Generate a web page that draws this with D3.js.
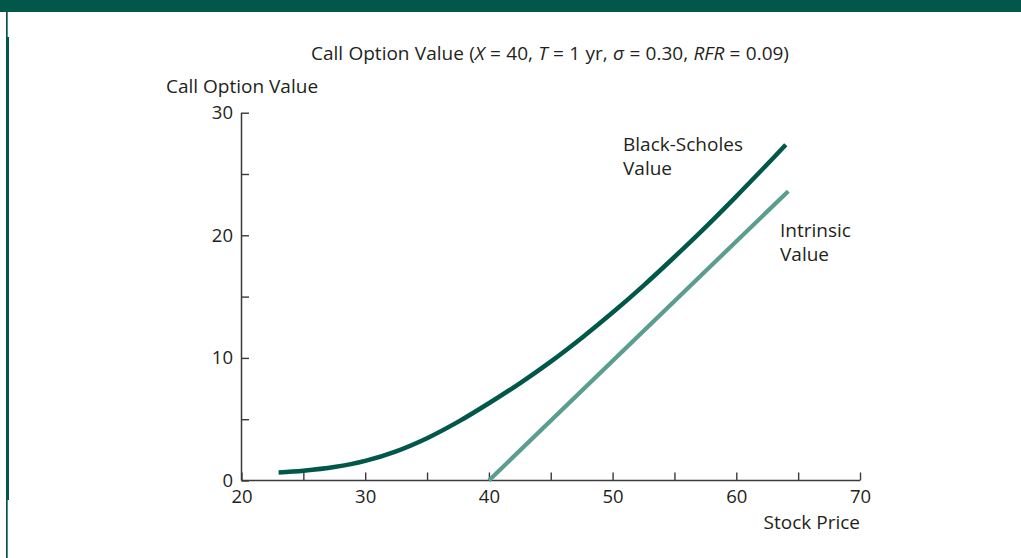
<!DOCTYPE html>
<html>
<head>
<meta charset="utf-8">
<script src="https://cdn.jsdelivr.net/npm/d3@7"></script>
<style>
  html, body { margin: 0; padding: 0; background: #fff; }
  svg { display: block; }
  text { font-family: "Open Sans", "Noto Sans", sans-serif; fill: #231f20; }
</style>
</head>
<body>
<svg id="chart" width="1021" height="558"></svg>
<script>
// ---- data ----
const bsPrice = [23, 25, 27.5, 30, 32.5, 35, 37.5, 40, 42.5, 45, 47.5, 50, 52.5, 55, 57.5, 60, 62, 64];
const bsValue = [0.66, 0.8, 1.1, 1.6, 2.38, 3.45, 4.78, 6.3, 7.93, 9.7, 11.63, 13.7, 15.9, 18.23, 20.65, 23.18, 25.26, 27.38];
const ivPrice = [40, 64.2];
const ivValue = [0, 23.6];
const xTicks = [20, 25, 30, 35, 40, 45, 50, 55, 60, 65, 70];
const xTickLabels = ["20", "", "30", "", "40", "", "50", "", "60", "", "70"];
const yTicks = [0, 5, 10, 15, 20, 25, 30];
const yTickLabels = ["0", "", "10", "", "20", "", "30"];

const svg = d3.select("#chart");
const W = 1021, H = 558;
const FONT = '"Open Sans", "Noto Sans", sans-serif';

// frame decoration
svg.append("rect").attr("x", 0).attr("y", 0).attr("width", W).attr("height", 12).attr("fill", "#00574a");
svg.append("rect").attr("x", 6).attr("y", 12).attr("width", 1.7).attr("height", H - 12).attr("fill", "#00574a");
svg.append("rect").attr("x", 6).attr("y", 37).attr("width", 3).attr("height", 463).attr("fill", "#00574a");

const x = d3.scaleLinear().domain([20, 70]).range([241.5, 860]);
const y = d3.scaleLinear().domain([0, 30]).range([480.5, 112.7]);

// x axis
const xAxis = d3.axisBottom(x).tickValues(xTicks).tickSize(-8).tickPadding(9.5)
  .tickFormat((d, i) => xTickLabels[i]);
const gx = svg.append("g").attr("transform", `translate(0,${y(0)})`).call(xAxis);
gx.select(".domain").attr("d", `M${x(20)},0H${x(70)}`).attr("stroke", "#3a3a3a").attr("stroke-width", 1.5);
gx.selectAll(".tick line").attr("stroke", "#3a3a3a").attr("stroke-width", 1.4);
gx.selectAll(".tick text").attr("font-size", 18.5).attr("fill", "#231f20")
  .attr("font-family", FONT).attr("dy", "0.71em");

// y axis
const yAxis = d3.axisLeft(y).tickValues(yTicks).tickSize(-7.5).tickPadding(8.5)
  .tickFormat((d, i) => yTickLabels[i]);
const gy = svg.append("g").attr("transform", `translate(${x(20)},0)`).call(yAxis);
gy.select(".domain").attr("d", `M0,${y(30)}V${y(0)}`).attr("stroke", "#3a3a3a").attr("stroke-width", 1.5);
gy.selectAll(".tick line").attr("stroke", "#3a3a3a").attr("stroke-width", 1.4);
gy.selectAll(".tick text").attr("font-size", 18.5).attr("fill", "#231f20")
  .attr("font-family", FONT);

// lines
const line = d3.line().x(d => x(d[0])).y(d => y(d[1])).curve(d3.curveCatmullRom.alpha(0.5));
svg.append("path").datum(ivPrice.map((p, i) => [p, ivValue[i]]))
  .attr("d", d3.line().x(d => x(d[0])).y(d => y(d[1])))
  .attr("fill", "none").attr("stroke", "#5b9e8f").attr("stroke-width", 4.2).attr("stroke-linecap", "butt");
svg.append("path").datum(bsPrice.map((p, i) => [p, bsValue[i]]))
  .attr("d", line)
  .attr("fill", "none").attr("stroke", "#00574a").attr("stroke-width", 4.5).attr("stroke-linecap", "butt");

// texts
const title = svg.append("text").attr("x", 550).attr("y", 59.5).attr("text-anchor", "middle")
  .attr("font-size", 19).attr("word-spacing", 0.4);
const parts = [["Call Option Value (", false], ["X", true], [" = 40, ", false], ["T", true], [" = 1 yr, ", false],
  ["σ", true], [" = 0.30, ", false], ["RFR", true], [" = 0.09)", false]];
parts.forEach(([t, it]) => title.append("tspan").text(t).attr("font-style", it ? "italic" : "normal"));

svg.append("text").attr("x", 166).attr("y", 92.5).attr("font-size", 19).text("Call Option Value");
svg.append("text").attr("x", 860).attr("y", 529).attr("text-anchor", "end").attr("font-size", 19).text("Stock Price");
svg.append("text").attr("x", 623).attr("y", 150.5).attr("font-size", 19).text("Black-Scholes");
svg.append("text").attr("x", 623).attr("y", 175).attr("font-size", 19).text("Value");
svg.append("text").attr("x", 780).attr("y", 236.5).attr("font-size", 19).text("Intrinsic");
svg.append("text").attr("x", 780).attr("y", 261).attr("font-size", 19).text("Value");
</script>
</body>
</html>
